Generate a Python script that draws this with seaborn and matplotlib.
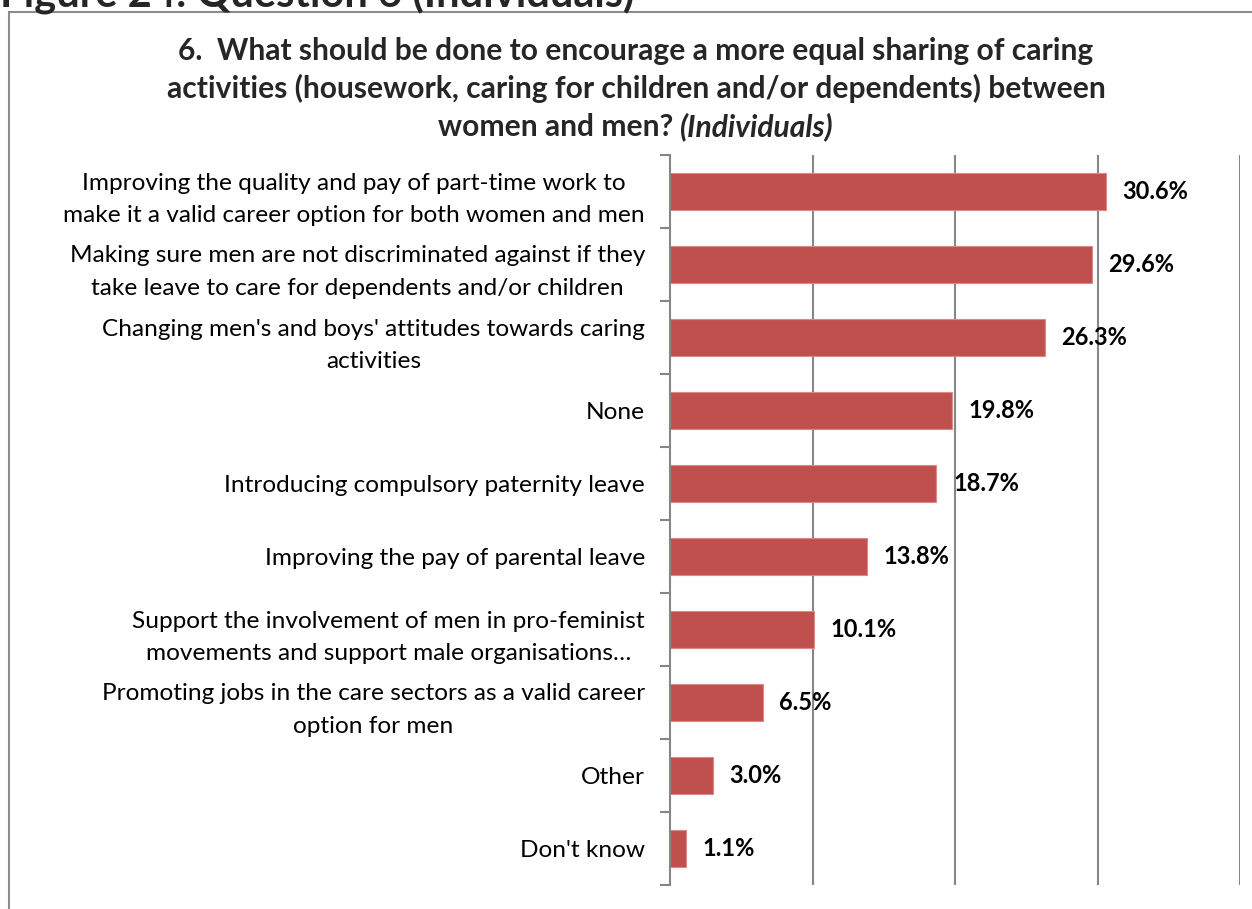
import matplotlib
matplotlib.use("Agg")
import matplotlib.pyplot as plt
import matplotlib.patches as mpatches
import seaborn as sns
import pandas as pd
import numpy as np

categories = [
    "Improving the quality and pay of part-time work to\nmake it a valid career option for both women and men",
    "Making sure men are not discriminated against if they\ntake leave to care for dependents and/or children",
    "Changing men's and boys' attitudes towards caring\nactivities",
    "None",
    "Introducing compulsory paternity leave",
    "Improving the pay of parental leave",
    "Support the involvement of men in pro-feminist\nmovements and support male organisations…",
    "Promoting jobs in the care sectors as a valid career\noption for men",
    "Other",
    "Don't know",
]
values = [30.6, 29.6, 26.3, 19.8, 18.7, 13.8, 10.1, 6.5, 3.0, 1.1]
value_labels = ["30.6%", "29.6%", "26.3%", "19.8%", "18.7%", "13.8%", "10.1%", "6.5%", "3.0%", "1.1%"]
x_gridlines = [10, 20, 30, 40]

title_lines = [
    "6.  What should be done to encourage a more equal sharing of caring",
    "activities (housework, caring for children and/or dependents) between",
]
title_last_plain = "women and men? "
title_last_italic = "(Individuals)"
figure_caption = "Figure 24: Question 6 (Individuals)"

sns.set_theme(style="white")
plt.rcParams['font.family'] = ['Lato', 'DejaVu Sans']

W, H = 1252, 909
fig = plt.figure(figsize=(W / 100, H / 100), dpi=100)
fig.patch.set_facecolor("white")

ax_left, ax_right, ax_top, ax_bottom = 670, 1240, 155, 885
ax = fig.add_axes([ax_left / W, 1 - ax_bottom / H, (ax_right - ax_left) / W, (ax_bottom - ax_top) / H])

df = pd.DataFrame({"category": categories, "value": values})
bar_color = "#C0504D"
sns.barplot(data=df, x="value", y="category", color=bar_color, width=0.5,
            edgecolor="#D98A88", linewidth=0.8, saturation=1, ax=ax, zorder=3)

ax.set_xlim(0, 40)
ax.set_ylim(len(categories) - 0.5, -0.5)
grid_color = "#868686"
for g in x_gridlines:
    ax.axvline(g, color=grid_color, lw=1.5, zorder=1)

for s in ["top", "right", "bottom"]:
    ax.spines[s].set_visible(False)
ax.spines["left"].set_color(grid_color)
ax.spines["left"].set_linewidth(1.5)
ax.spines["left"].set_zorder(4)

ax.set_xticks([])
ax.set_xlabel("")
ax.set_ylabel("")
ax.set_yticks(np.arange(len(categories)))
ax.set_yticklabels(categories, fontsize=17.6, color="#000000", linespacing=1.7,
                   multialignment="center")
ax.tick_params(axis="y", which="major", length=0, pad=18)
ax.set_yticks(np.arange(-0.5, len(categories)), minor=True)
ax.tick_params(axis="y", which="minor", length=7, width=1.5, color=grid_color, left=True)

for i, (v, lab) in enumerate(zip(values, value_labels)):
    ax.annotate(lab, xy=(v, i), xytext=(12, 0), textcoords="offset points",
                ha="left", va="center", fontsize=17, fontweight="bold", color="#000000", zorder=5)

# title
cx = 636 / W
tfs = 21.6
fig.text(cx, 1 - 60 / H, title_lines[0], ha="center", va="baseline", fontsize=tfs, fontweight="bold")
fig.text(cx, 1 - 98 / H, title_lines[1], ha="center", va="baseline", fontsize=tfs, fontweight="bold")
t1 = fig.text(0, 1 - 136 / H, title_last_plain, ha="left", va="baseline", fontsize=tfs, fontweight="bold")
t2 = fig.text(0, 1 - 136 / H, title_last_italic, ha="left", va="baseline", fontsize=tfs,
              fontweight="bold", fontstyle="italic")
r = fig.canvas.get_renderer()
w1 = t1.get_window_extent(renderer=r).width
w2 = t2.get_window_extent(renderer=r).width
start = cx * W - (w1 + w2) / 2
t1.set_x(start / W)
t2.set_x((start + w1) / W)

# outer frame and clipped caption
frame = mpatches.Rectangle((9 / W, -0.1), 1.2, 1.1 - 12 / H, transform=fig.transFigure,
                           fill=False, edgecolor="#8C8C8C", lw=1.5)
fig.patches.append(frame)
fig.text(0, 1 - 6 / H, figure_caption, ha="left", va="baseline", fontsize=30, fontweight="bold")

fig.savefig("out.png", dpi=100, facecolor="white")
